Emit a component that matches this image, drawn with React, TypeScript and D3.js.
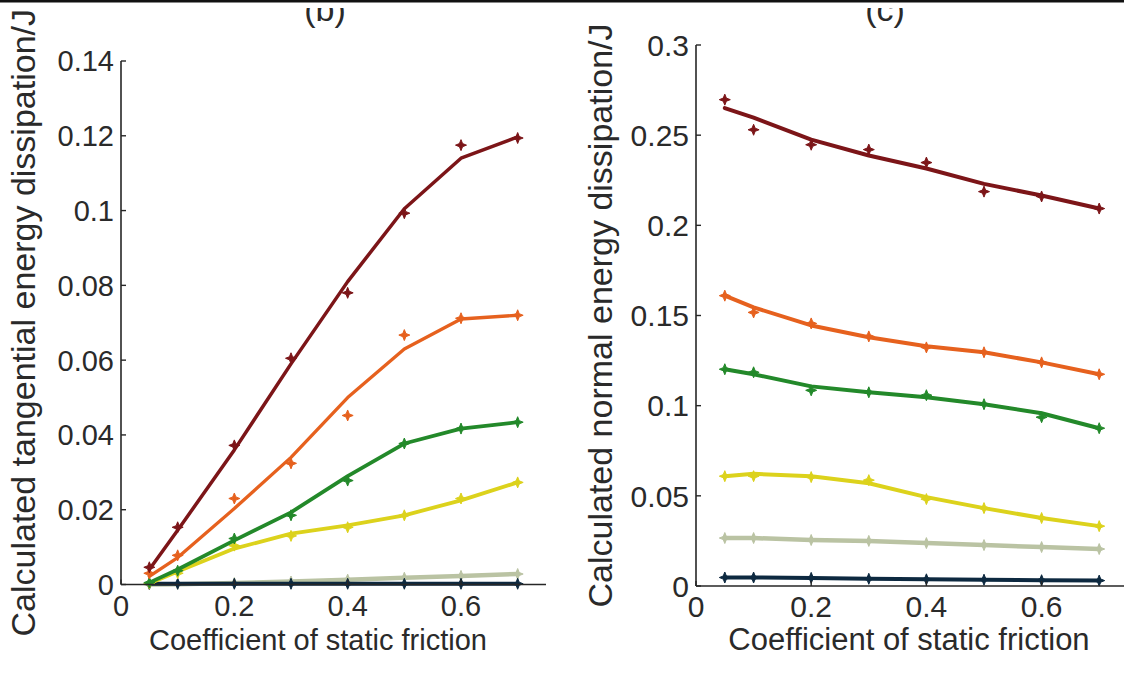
import React from "react";
import * as d3 from "d3";

const frictionX = [0.05, 0.1, 0.2, 0.3, 0.4, 0.5, 0.6, 0.7];

// (b) tangential energy dissipation — measured markers and fitted curves
const tanRed = [0.0046, 0.0153, 0.0372, 0.0605, 0.078, 0.0993, 0.1175, 0.1194];
const tanRedFit = [0.004, 0.0145, 0.036, 0.059, 0.081, 0.1005, 0.114, 0.1197];
const tanOrange = [0.003, 0.0078, 0.023, 0.0324, 0.0452, 0.0667, 0.0712, 0.072];
const tanOrangeFit = [0.0022, 0.0072, 0.0203, 0.034, 0.05, 0.063, 0.071, 0.072];
const tanGreen = [0.0005, 0.0037, 0.0123, 0.0185, 0.0278, 0.0377, 0.0417, 0.0434];
const tanGreenFit = [0.0005, 0.004, 0.0118, 0.0193, 0.029, 0.0377, 0.0417, 0.0434];
const tanYellow = [0.0003, 0.003, 0.0104, 0.013, 0.0153, 0.0185, 0.023, 0.0273];
const tanYellowFit = [0.0003, 0.0035, 0.0096, 0.0136, 0.0158, 0.0185, 0.0225, 0.0273];
const tanGrey = [0.0, 0.0001, 0.0004, 0.0008, 0.0013, 0.0018, 0.0023, 0.0028];
const tanNavy = [0.0002, 0.0002, 0.0002, 0.0002, 0.0002, 0.0002, 0.0002, 0.0002];

// (c) normal energy dissipation
const norRed = [0.2697, 0.253, 0.2447, 0.242, 0.2348, 0.2187, 0.216, 0.2093];
const norRedFit = [0.265, 0.2597, 0.2475, 0.2387, 0.2315, 0.223, 0.2165, 0.2093];
const norOrange = [0.161, 0.1517, 0.1456, 0.1384, 0.1323, 0.1296, 0.124, 0.1174];
const norOrangeFit = [0.161, 0.1545, 0.1445, 0.1379, 0.1329, 0.1296, 0.124, 0.1174];
const norGreen = [0.1202, 0.1185, 0.1085, 0.1074, 0.1058, 0.1008, 0.0936, 0.0875];
const norGreenFit = [0.1202, 0.1174, 0.1107, 0.1074, 0.1047, 0.1008, 0.0958, 0.0875];
const norYellow = [0.0609, 0.0609, 0.0604, 0.0587, 0.0482, 0.0432, 0.0377, 0.0332];
const norYellowFit = [0.0609, 0.0622, 0.0609, 0.057, 0.0493, 0.0432, 0.0377, 0.0332];
const norGrey = [0.0266, 0.0266, 0.0255, 0.025, 0.0238, 0.0227, 0.0216, 0.0205];
const norNavy = [0.0047, 0.0047, 0.0045, 0.004, 0.0037, 0.0035, 0.0032, 0.003];

const leftYTicks = [0, 0.02, 0.04, 0.06, 0.08, 0.1, 0.12, 0.14];
const leftYTickLabels = ["0", "0.02", "0.04", "0.06", "0.08", "0.1", "0.12", "0.14"];
const rightYTicks = [0, 0.05, 0.1, 0.15, 0.2, 0.25, 0.3];
const rightYTickLabels = ["0", "0.05", "0.1", "0.15", "0.2", "0.25", "0.3"];
const xTicks = [0, 0.2, 0.4, 0.6];
const xTickLabels = ["0", "0.2", "0.4", "0.6"];

const COLORS = {
  red: "#7c1518",
  orange: "#e6611e",
  green: "#23892a",
  yellow: "#dcd21c",
  grey: "#bac3a3",
  navy: "#0d2940",
};

type Series = { color: string; pts: number[]; fit: number[]; w: number };

const leftSeries: Series[] = [
  { color: COLORS.grey, pts: tanGrey, fit: tanGrey, w: 4.5 },
  { color: COLORS.navy, pts: tanNavy, fit: tanNavy, w: 4 },
  { color: COLORS.yellow, pts: tanYellow, fit: tanYellowFit, w: 3.8 },
  { color: COLORS.green, pts: tanGreen, fit: tanGreenFit, w: 3.8 },
  { color: COLORS.orange, pts: tanOrange, fit: tanOrangeFit, w: 3.3 },
  { color: COLORS.red, pts: tanRed, fit: tanRedFit, w: 3.5 },
];

const rightSeries: Series[] = [
  { color: COLORS.grey, pts: norGrey, fit: norGrey, w: 4.5 },
  { color: COLORS.navy, pts: norNavy, fit: norNavy, w: 4 },
  { color: COLORS.yellow, pts: norYellow, fit: norYellowFit, w: 4 },
  { color: COLORS.green, pts: norGreen, fit: norGreenFit, w: 4 },
  { color: COLORS.orange, pts: norOrange, fit: norOrangeFit, w: 4 },
  { color: COLORS.red, pts: norRed, fit: norRedFit, w: 4 },
];

const FONT = "'Liberation Sans', Arial, Helvetica, sans-serif";

// four-pointed star marker
function starPath(r: number, ri: number) {
  const p: string[] = [];
  for (let i = 0; i < 8; i++) {
    const a = (Math.PI / 4) * i - Math.PI / 2;
    const rr = i % 2 === 0 ? r : ri;
    p.push(`${(Math.cos(a) * rr).toFixed(2)},${(Math.sin(a) * rr).toFixed(2)}`);
  }
  return "M" + p.join("L") + "Z";
}
const MARKER = starPath(5.5, 2.2);

type PanelProps = {
  x0: number;
  x1: number;
  y0: number;
  y1: number;
  yMax: number;
  yTicks: number[];
  yTickLabels: string[];
  series: Series[];
  tickFont: number;
  yLabel: string;
  yLabelX: number;
  yLabelFont: number;
  xLabelX: number;
  xLabelFont: number;
  title: string;
  titleX: number;
};

function Panel(p: PanelProps) {
  const x = d3.scaleLinear().domain([0, 0.75]).range([p.x0, p.x1]);
  const y = d3.scaleLinear().domain([0, p.yMax]).range([p.y0, p.y1]);
  const line = d3
    .line<number>()
    .x((_, i) => x(frictionX[i]))
    .y((v) => y(v))
    .curve(d3.curveLinear);
  const axisColor = "#262626";
  const yMid = (p.y0 + p.y1) / 2;
  return (
    <g>
      {p.series.map((s, si) => (
        <g key={si}>
          <path d={line(s.fit) || ""} fill="none" stroke={s.color} strokeWidth={s.w} strokeLinejoin="round" strokeLinecap="round" />
          {s.pts.map((v, i) => (
            <path key={i} d={MARKER} transform={`translate(${x(frictionX[i])},${y(v)})`} fill={s.color} stroke={s.color} strokeWidth={1} />
          ))}
        </g>
      ))}
      {/* axes */}
      <line x1={x(0)} x2={x(0)} y1={y(0)} y2={y(p.yMax)} stroke={axisColor} strokeWidth={1.6} />
      <line x1={x(0)} x2={x(0.75)} y1={y(0)} y2={y(0)} stroke={axisColor} strokeWidth={1.6} />
      {p.yTicks.map((t, i) => (
        <g key={"yt" + i}>
          <line x1={x(0)} x2={x(0) + 5} y1={y(t)} y2={y(t)} stroke={axisColor} strokeWidth={1.4} />
          <text x={x(0) - 7} y={y(t)} dy="0.36em" textAnchor="end" fontSize={p.tickFont} fontFamily={FONT} fill="#2a2a2a">
            {p.yTickLabels[i]}
          </text>
        </g>
      ))}
      {xTicks.map((t, i) => (
        <g key={"xt" + i}>
          <line x1={x(t)} x2={x(t)} y1={y(0)} y2={y(0) - 5} stroke={axisColor} strokeWidth={1.4} />
          <text x={x(t)} y={y(0) + 31} textAnchor="middle" fontSize={p.tickFont} fontFamily={FONT} fill="#2a2a2a">
            {xTickLabels[i]}
          </text>
        </g>
      ))}
      <text
        transform={`translate(${p.yLabelX},${yMid}) rotate(-90)`}
        textAnchor="middle"
        fontSize={p.yLabelFont}
        fontFamily={FONT}
        fill="#2a2a2a"
      >
        {p.yLabel}
      </text>
      <text x={p.xLabelX} y={650} textAnchor="middle" fontSize={p.xLabelFont} fontFamily={FONT} fill="#2a2a2a">
        Coefficient of static friction
      </text>
      <text x={p.titleX} y={21} textAnchor="middle" fontSize={34} fontFamily={FONT} fill="#2a2a2a">
        {p.title}
      </text>
    </g>
  );
}

export default function App() {
  return (
    <div style={{ position: "absolute", left: 0, top: 0, width: 1124, height: 680, background: "#fff" }}>
      <svg width={1124} height={680} style={{ display: "block" }}>
        <rect x={0} y={0} width={1124} height={680} fill="#fff" />
        <Panel
          x0={121}
          x1={546}
          y0={584.5}
          y1={61}
          yMax={0.14}
          yTicks={leftYTicks}
          yTickLabels={leftYTickLabels}
          series={leftSeries}
          tickFont={29}
          yLabel="Calculated tangential energy dissipation/J"
          yLabelX={35}
          yLabelFont={34}
          xLabelX={318}
          xLabelFont={29}
          title="(b)"
          titleX={325}
        />
        <Panel
          x0={696}
          x1={1128}
          y0={586}
          y1={45}
          yMax={0.3}
          yTicks={rightYTicks}
          yTickLabels={rightYTickLabels}
          series={rightSeries}
          tickFont={30}
          yLabel="Calculated normal energy dissipation/J"
          yLabelX={612}
          yLabelFont={34}
          xLabelX={909}
          xLabelFont={31}
          title="(c)"
          titleX={885}
        />
        <rect x={0} y={0} width={1124} height={8} fill="#fff" />
        <rect x={0} y={0} width={1124} height={2.5} fill="#111" />
      </svg>
    </div>
  );
}
